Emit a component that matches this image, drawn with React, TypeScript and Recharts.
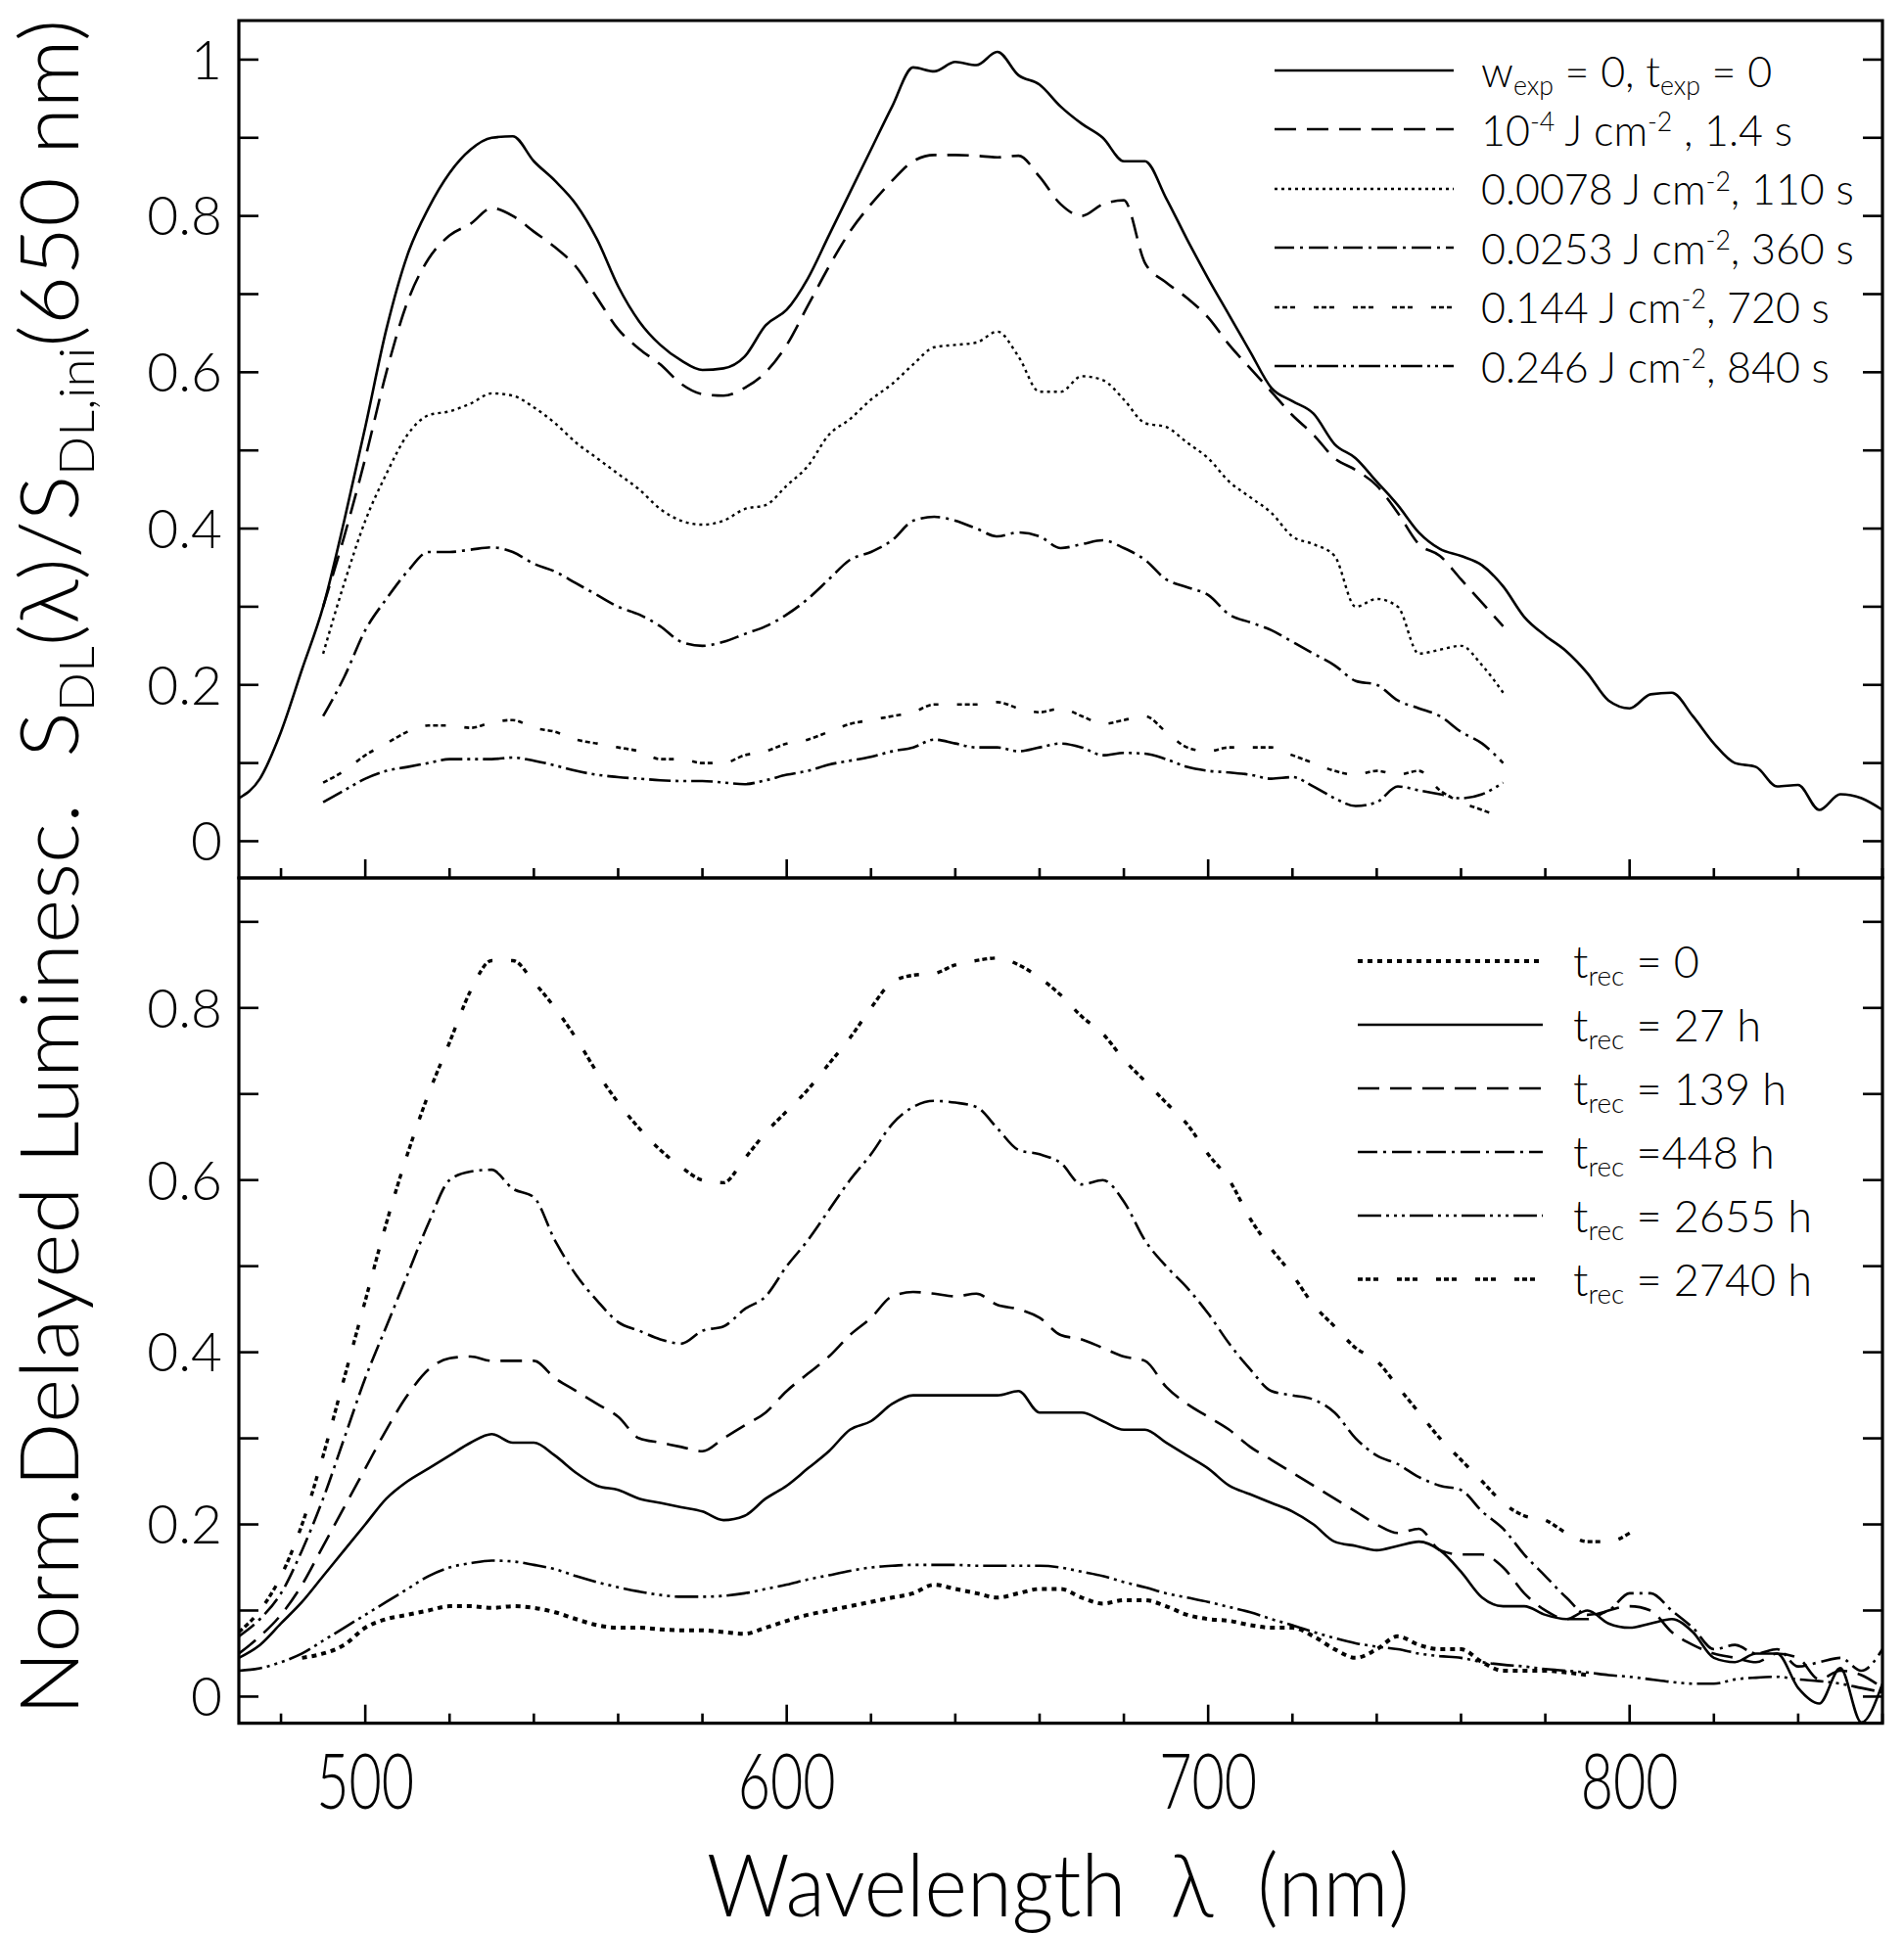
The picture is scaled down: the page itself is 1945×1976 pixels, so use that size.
import React from "react";
import { LineChart, Line, XAxis, YAxis, ReferenceArea } from "recharts";

// wavelength grid (nm), 5 nm steps
const WL_ALL = [
  470, 475, 480, 485, 490, 495, 500, 505, 510, 515,
  520, 525, 530, 535, 540, 545, 550, 555, 560, 565,
  570, 575, 580, 585, 590, 595, 600, 605, 610, 615,
  620, 625, 630, 635, 640, 645, 650, 655, 660, 665,
  670, 675, 680, 685, 690, 695, 700, 705, 710, 715,
  720, 725, 730, 735, 740, 745, 750, 755, 760, 765,
  770, 775, 780, 785, 790, 795, 800, 805, 810, 815,
  820, 825, 830, 835, 840, 845, 850, 855, 860,
];
const WL_EXPOSED = WL_ALL.slice(4, 61); // 490..770
const WL_REC0 = WL_ALL.slice(3, 65); // 485..790
const WL_REC2740 = WL_ALL.slice(0, 67); // 470..800

// upper panel: exposure series
const TOP_UNEXPOSED = [
  0.055, 0.08, 0.14, 0.22, 0.3, 0.41, 0.53, 0.655, 0.75, 0.81,
  0.855, 0.885, 0.9, 0.902, 0.87, 0.845, 0.815, 0.77, 0.71, 0.665,
  0.635, 0.615, 0.603, 0.605, 0.62, 0.66, 0.68, 0.72, 0.775, 0.83,
  0.885, 0.94, 0.99, 0.985, 0.997, 0.993, 1.01, 0.98, 0.968, 0.94,
  0.918, 0.9, 0.87, 0.87, 0.823, 0.77, 0.72, 0.673, 0.626, 0.58,
  0.563, 0.547, 0.508, 0.49, 0.46, 0.43, 0.395, 0.374, 0.365, 0.353,
  0.326, 0.287, 0.263, 0.243, 0.215, 0.18, 0.17, 0.188, 0.19, 0.16,
  0.125, 0.1, 0.095, 0.07, 0.072, 0.04, 0.06, 0.055, 0.04,
];
const TOP_1E4 = [
  0.3, 0.39, 0.49, 0.6, 0.69, 0.745, 0.775, 0.79, 0.81, 0.8,
  0.78, 0.76, 0.735, 0.695, 0.655, 0.63, 0.61, 0.585, 0.572, 0.57,
  0.58, 0.6, 0.635, 0.685, 0.735, 0.78, 0.815, 0.845, 0.87, 0.878,
  0.878, 0.877, 0.875, 0.877, 0.85, 0.815, 0.8, 0.815, 0.82, 0.74,
  0.715, 0.695, 0.67, 0.635, 0.605, 0.575, 0.545, 0.52, 0.49, 0.475,
  0.455, 0.42, 0.38, 0.365, 0.335, 0.305, 0.275,
];
const TOP_0078 = [
  0.24, 0.33, 0.41, 0.47, 0.52, 0.545, 0.55, 0.56, 0.573, 0.57,
  0.555, 0.535, 0.51, 0.49, 0.47, 0.45, 0.425, 0.41, 0.405, 0.41,
  0.425, 0.43, 0.455, 0.48, 0.52, 0.54, 0.565, 0.585, 0.61, 0.632,
  0.635, 0.638, 0.652, 0.62, 0.575, 0.575, 0.595, 0.59, 0.565, 0.535,
  0.53, 0.51, 0.49, 0.46, 0.44, 0.42, 0.39, 0.38, 0.365, 0.3,
  0.31, 0.3, 0.24, 0.245, 0.25, 0.225, 0.19,
];
const TOP_0253 = [
  0.16, 0.21, 0.27, 0.31, 0.345, 0.37, 0.37, 0.373, 0.376, 0.37,
  0.355, 0.345, 0.33, 0.315, 0.3, 0.29, 0.275, 0.255, 0.25, 0.255,
  0.265, 0.275, 0.29, 0.31, 0.335, 0.36, 0.37, 0.385, 0.41, 0.415,
  0.41, 0.4, 0.39, 0.395, 0.39, 0.375, 0.38, 0.385, 0.375, 0.36,
  0.335, 0.325, 0.315, 0.29, 0.28, 0.27, 0.255, 0.24, 0.225, 0.205,
  0.2, 0.18, 0.17, 0.16, 0.14, 0.125, 0.1,
];
const TOP_0144 = [
  0.075, 0.09, 0.11, 0.125, 0.14, 0.148, 0.148, 0.145, 0.152, 0.155,
  0.145, 0.14, 0.13, 0.125, 0.12, 0.115, 0.105, 0.105, 0.1, 0.1,
  0.11, 0.115, 0.125, 0.13, 0.14, 0.15, 0.155, 0.16, 0.165, 0.175,
  0.175, 0.175, 0.178, 0.17, 0.165, 0.17, 0.16, 0.15, 0.155, 0.16,
  0.14, 0.12, 0.115, 0.12, 0.12, 0.12, 0.11, 0.1, 0.09, 0.085,
  0.09, 0.085, 0.09, 0.065, 0.05, 0.04, 0.03,
];
const TOP_0246 = [
  0.05, 0.065, 0.08, 0.09, 0.095, 0.1, 0.105, 0.105, 0.105, 0.107,
  0.103, 0.097, 0.09, 0.085, 0.082, 0.08, 0.078, 0.077, 0.077, 0.075,
  0.073, 0.078, 0.085, 0.09, 0.098, 0.103, 0.108, 0.115, 0.12, 0.13,
  0.125, 0.12, 0.12, 0.115, 0.12, 0.125, 0.12, 0.11, 0.113, 0.112,
  0.105, 0.095, 0.09, 0.088, 0.085, 0.08, 0.082, 0.07, 0.055, 0.045,
  0.05, 0.07, 0.065, 0.06, 0.055, 0.06, 0.075,
];

// lower panel: recovery series
const REC_0 = [
  0.045, 0.05, 0.06, 0.08, 0.09, 0.095, 0.1, 0.105, 0.105, 0.103,
  0.105, 0.103, 0.098, 0.09, 0.083, 0.08, 0.08, 0.078, 0.077, 0.077,
  0.075, 0.073, 0.08, 0.088, 0.095, 0.1, 0.105, 0.11, 0.115, 0.12,
  0.13, 0.125, 0.12, 0.115, 0.12, 0.125, 0.125, 0.115, 0.108, 0.112,
  0.112, 0.105, 0.095, 0.09, 0.088, 0.083, 0.08, 0.08, 0.07, 0.055,
  0.045, 0.055, 0.07, 0.06, 0.055, 0.055, 0.04, 0.03, 0.03, 0.03,
  0.028, 0.025,
];
const REC_27 = [
  0.045, 0.06, 0.085, 0.11, 0.14, 0.17, 0.2, 0.23, 0.25, 0.265,
  0.28, 0.295, 0.305, 0.295, 0.295, 0.28, 0.26, 0.245, 0.24, 0.23,
  0.225, 0.22, 0.215, 0.205, 0.21, 0.23, 0.245, 0.265, 0.285, 0.31,
  0.32, 0.34, 0.35, 0.35, 0.35, 0.35, 0.35, 0.355, 0.33, 0.33,
  0.33, 0.32, 0.31, 0.31, 0.295, 0.28, 0.265, 0.245, 0.235, 0.225,
  0.215, 0.2, 0.18, 0.175, 0.17, 0.175, 0.18, 0.17, 0.145, 0.115,
  0.105, 0.105, 0.095, 0.09, 0.1, 0.085, 0.08, 0.085, 0.09, 0.075,
  0.045, 0.04, 0.05, 0.05, 0.01, -0.008, 0.033, -0.03, 0.015,
];
const REC_139 = [
  0.05, 0.07, 0.095, 0.13, 0.175, 0.22, 0.265, 0.31, 0.35, 0.38,
  0.393, 0.395, 0.39, 0.39, 0.39, 0.37, 0.355, 0.34, 0.325, 0.3,
  0.295, 0.29, 0.285, 0.3, 0.315, 0.33, 0.355, 0.375, 0.395, 0.42,
  0.44, 0.465, 0.47, 0.468, 0.465, 0.468, 0.455, 0.45, 0.44, 0.42,
  0.415, 0.405, 0.395, 0.39, 0.36, 0.34, 0.325, 0.31, 0.29, 0.275,
  0.26, 0.245, 0.23, 0.215, 0.2, 0.19, 0.195, 0.17, 0.165, 0.165,
  0.15, 0.12, 0.1, 0.09, 0.09, 0.1, 0.105, 0.1, 0.075, 0.06,
  0.05, 0.045, 0.04, 0.05, 0.045, 0.02, 0.03, 0.025, 0.01,
];
const REC_448 = [
  0.07, 0.09, 0.12, 0.17, 0.23, 0.3, 0.37, 0.43, 0.49, 0.55,
  0.6, 0.61, 0.612, 0.59, 0.58, 0.53, 0.49, 0.46, 0.435, 0.425,
  0.415, 0.41, 0.425, 0.43, 0.45, 0.465, 0.5, 0.53, 0.565, 0.6,
  0.63, 0.665, 0.685, 0.692, 0.69, 0.685, 0.66, 0.635, 0.63, 0.62,
  0.595, 0.6, 0.575, 0.53, 0.5, 0.475, 0.445, 0.41, 0.38, 0.355,
  0.35, 0.345, 0.33, 0.3, 0.28, 0.27, 0.255, 0.245, 0.24, 0.215,
  0.195, 0.165, 0.14, 0.115, 0.095, 0.1, 0.12, 0.12, 0.1, 0.08,
  0.055, 0.06, 0.05, 0.055, 0.035, 0.04, 0.045, 0.03, 0.055,
];
const REC_2655 = [
  0.03, 0.033, 0.04, 0.05, 0.065, 0.08, 0.095, 0.11, 0.125, 0.14,
  0.15, 0.155, 0.158, 0.157, 0.153, 0.148, 0.14, 0.133, 0.127, 0.122,
  0.118, 0.116, 0.116, 0.117, 0.12, 0.125, 0.13, 0.136, 0.141, 0.146,
  0.15, 0.152, 0.153, 0.153, 0.153, 0.152, 0.152, 0.152, 0.152, 0.15,
  0.145, 0.14, 0.133, 0.127, 0.12, 0.115, 0.11, 0.104, 0.098, 0.09,
  0.083, 0.075, 0.068, 0.062, 0.058, 0.055, 0.05, 0.047, 0.045, 0.04,
  0.037, 0.035, 0.032, 0.03, 0.028, 0.025, 0.023, 0.02, 0.017, 0.015,
  0.015, 0.02, 0.022, 0.023, 0.02, 0.018, 0.015, 0.01, 0.005,
];
const REC_2740 = [
  0.075, 0.1, 0.14, 0.2, 0.28, 0.37, 0.46, 0.55, 0.63, 0.7,
  0.76, 0.82, 0.855, 0.855, 0.83, 0.8, 0.765, 0.725, 0.69, 0.66,
  0.635, 0.615, 0.6, 0.597, 0.625, 0.655, 0.68, 0.705, 0.735, 0.765,
  0.8, 0.83, 0.838, 0.84, 0.85, 0.855, 0.858, 0.85, 0.835, 0.815,
  0.79, 0.77, 0.74, 0.715, 0.69, 0.665, 0.63, 0.6, 0.555, 0.52,
  0.49, 0.455, 0.43, 0.405, 0.39, 0.36, 0.33, 0.3, 0.275, 0.25,
  0.225, 0.21, 0.205, 0.19, 0.18, 0.18, 0.19,
];

const X_TICKS = [480, 500, 520, 540, 560, 580, 600, 620, 640, 660, 680, 700, 720, 740, 760, 780, 800, 820, 840, 860];
const X_LABELS = [500, 600, 700, 800];
const TOP_Y_TICKS = [0, 0.1, 0.2, 0.3, 0.4, 0.5, 0.6, 0.7, 0.8, 0.9, 1];
const BOTTOM_Y_TICKS = [0, 0.1, 0.2, 0.3, 0.4, 0.5, 0.6, 0.7, 0.8, 0.9];
const Y_LABELS = [0, 0.2, 0.4, 0.6, 0.8, 1];

const FONT = "Lato, 'Open Sans', sans-serif";
const W = 1945;
const PLOT_LEFT = 244;
const PLOT_RIGHT = 1923;
const TOP_H = 910;
const TOP_PLOT_TOP = 21;
const TOP_PLOT_BOTTOM = 897;
const BOT_OFFSET = 860;
const BOT_H = 1116;
const BOT_PLOT_TOP = 37;
const BOT_X_AXIS_H = 215.3;
const BOT_PLOT_BOTTOM = BOT_H - BOT_X_AXIS_H;

type Style = { dash?: string; width: number };
const STYLES: Record<string, Style> = {
  solid: { width: 2.6 },
  dashed: { dash: "22 11", width: 2.6 },
  fineDot: { dash: "3 4", width: 2.4 },
  dashDot: { dash: "20 6 3 6", width: 2.6 },
  triple: { dash: "5 3 5 3 5 19", width: 2.6 },
  dashDotDot: { dash: "22 5 3 5 3 5", width: 2.6 },
  thickDot: { dash: "5 5", width: 4 },
  dashDot3: { dash: "24 5 3 5 3 5 3 5", width: 2.6 },
  thickTriple: { dash: "5 3 5 3 5 19", width: 3.4 },
};

const rows = (xs: number[], ys: number[]) => xs.map((x, i) => ({ x, y: ys[i] }));

const TOP_SERIES = [
  { key: "u", xs: WL_ALL, ys: TOP_UNEXPOSED, style: STYLES.solid },
  { key: "a", xs: WL_EXPOSED, ys: TOP_1E4, style: STYLES.dashed },
  { key: "b", xs: WL_EXPOSED, ys: TOP_0078, style: STYLES.fineDot },
  { key: "c", xs: WL_EXPOSED, ys: TOP_0253, style: STYLES.dashDot },
  { key: "d", xs: WL_EXPOSED, ys: TOP_0144, style: STYLES.triple },
  { key: "e", xs: WL_EXPOSED, ys: TOP_0246, style: STYLES.dashDotDot },
];
const BOTTOM_SERIES = [
  { key: "r0", xs: WL_REC0, ys: REC_0, style: STYLES.thickDot },
  { key: "r27", xs: WL_ALL, ys: REC_27, style: STYLES.solid },
  { key: "r139", xs: WL_ALL, ys: REC_139, style: STYLES.dashed },
  { key: "r448", xs: WL_ALL, ys: REC_448, style: STYLES.dashDot },
  { key: "r2655", xs: WL_ALL, ys: REC_2655, style: STYLES.dashDot3 },
  { key: "r2740", xs: WL_REC2740, ys: REC_2740, style: STYLES.thickTriple },
];

const sub = (t: string) => (
  <span style={{ fontSize: "0.62em", position: "relative", top: "0.32em" }}>{t}</span>
);
const sup = (t: string) => (
  <span style={{ fontSize: "0.62em", position: "relative", top: "-0.55em" }}>{t}</span>
);

const TOP_LEGEND = [
  { style: STYLES.solid, label: <>w{sub("exp")} = 0, t{sub("exp")} = 0</> },
  { style: STYLES.dashed, label: <>10{sup("-4")} J cm{sup("-2")} , 1.4 s</> },
  { style: STYLES.fineDot, label: <>0.0078 J cm{sup("-2")}, 110 s</> },
  { style: STYLES.dashDot, label: <>0.0253 J cm{sup("-2")}, 360 s</> },
  { style: STYLES.triple, label: <>0.144 J cm{sup("-2")}, 720 s</> },
  { style: STYLES.dashDotDot, label: <>0.246 J cm{sup("-2")}, 840 s</> },
];
const BOTTOM_LEGEND = [
  { style: STYLES.thickDot, label: <>t{sub("rec")} = 0</> },
  { style: STYLES.solid, label: <>t{sub("rec")} = 27 h</> },
  { style: STYLES.dashed, label: <>t{sub("rec")} = 139 h</> },
  { style: STYLES.dashDot, label: <>t{sub("rec")} =448 h</> },
  { style: STYLES.dashDot3, label: <>t{sub("rec")} = 2655 h</> },
  { style: STYLES.thickTriple, label: <>t{sub("rec")} = 2740 h</> },
];

const yLabel = (v: number) => (v === 0 ? "0" : v === 1 ? "1" : v.toFixed(1));

function LeftYTick(props: any) {
  const { y, payload } = props;
  const v = payload.value as number;
  const showLabel = Y_LABELS.some((l) => Math.abs(l - v) < 1e-6);
  return (
    <g>
      <line x1={PLOT_LEFT} x2={PLOT_LEFT + 20} y1={y} y2={y} stroke="#000" strokeWidth={2.6} />
      {showLabel && (
        <text x={PLOT_LEFT - 17} y={y} dy="0.36em" textAnchor="end" fontSize={55} fontFamily={FONT} fontWeight={300} fill="#000">
          {yLabel(v)}
        </text>
      )}
    </g>
  );
}

function RightYTick(props: any) {
  const { y } = props;
  return <line x1={PLOT_RIGHT - 20} x2={PLOT_RIGHT} y1={y} y2={y} stroke="#000" strokeWidth={2.6} />;
}

function makeXTick(plotBottom: number, withLabels: boolean) {
  return function XTick(props: any) {
    const { x, payload } = props;
    const v = payload.value as number;
    const major = X_LABELS.includes(v);
    return (
      <g>
        <line x1={x} x2={x} y1={plotBottom} y2={plotBottom - (major ? 19 : 10)} stroke="#000" strokeWidth={2.6} />
        {withLabels && major && (
          <text x={x} y={plotBottom + 87} textAnchor="middle" fontSize={78} fontFamily={FONT} fontWeight={300} fill="#000" textLength={100} lengthAdjust="spacingAndGlyphs">
            {v}
          </text>
        )}
      </g>
    );
  };
}

function Panel({ series, ticks, domain, height, margin, xAxisHeight, plotBottom, labels }: any) {
  return (
    <LineChart width={W} height={height} margin={margin}>
      <XAxis
        dataKey="x"
        type="number"
        domain={[470, 860]}
        ticks={X_TICKS}
        interval={0}
        allowDataOverflow
        axisLine={false}
        tickLine={false}
        height={xAxisHeight}
        tick={makeXTick(plotBottom, labels)}
      />
      <YAxis
        yAxisId="l"
        type="number"
        domain={domain}
        ticks={ticks}
        interval={0}
        allowDataOverflow
        axisLine={false}
        tickLine={false}
        width={PLOT_LEFT}
        tick={<LeftYTick />}
      />
      <YAxis
        yAxisId="r"
        orientation="right"
        type="number"
        domain={domain}
        ticks={ticks}
        interval={0}
        allowDataOverflow
        axisLine={false}
        tickLine={false}
        width={W - PLOT_RIGHT}
        tick={<RightYTick />}
      />
      <ReferenceArea
        yAxisId="l"
        x1={470}
        x2={860}
        y1={domain[0]}
        y2={domain[1]}
        fill="none"
        stroke="#000"
        strokeWidth={3.2}
        ifOverflow="visible"
      />
      {series.map((s: any) => (
        <Line
          key={s.key}
          yAxisId="l"
          data={rows(s.xs, s.ys)}
          dataKey="y"
          type="monotone"
          stroke="#000"
          strokeWidth={s.style.width}
          strokeDasharray={s.style.dash}
          dot={false}
          activeDot={false}
          isAnimationActive={false}
        />
      ))}
    </LineChart>
  );
}

function LegendBlock({ items, left, top, step, lineW, gap, fontSize }: any) {
  return (
    <div style={{ position: "absolute", left, top: 0, fontFamily: FONT, fontWeight: 300, fontSize, color: "#000" }}>
      {items.map((it: any, i: number) => (
        <div
          key={i}
          style={{ position: "absolute", top: top + i * step - 30, height: 60, display: "flex", alignItems: "center", whiteSpace: "nowrap" }}
        >
          <svg width={lineW} height={10} style={{ display: "block" }}>
            <line x1={0} x2={lineW} y1={5} y2={5} stroke="#000" strokeWidth={it.style.width} strokeDasharray={it.style.dash} />
          </svg>
          <span style={{ marginLeft: gap, lineHeight: 1 }}>{it.label}</span>
        </div>
      ))}
    </div>
  );
}

export default function App() {
  return (
    <div style={{ position: "relative", width: W, height: 1976, background: "#fff", overflow: "hidden" }}>
      <style>{"body{margin:0}"}</style>
      <div style={{ position: "absolute", left: 0, top: 0 }}>
        <Panel
          series={TOP_SERIES}
          ticks={TOP_Y_TICKS}
          domain={[-0.047, 1.05]}
          height={TOP_H}
          margin={{ top: TOP_PLOT_TOP, right: 0, bottom: 0, left: 0 }}
          xAxisHeight={TOP_H - TOP_PLOT_BOTTOM}
          plotBottom={TOP_PLOT_BOTTOM}
          labels={false}
        />
      </div>
      <div style={{ position: "absolute", left: 0, top: BOT_OFFSET }}>
        <Panel
          series={BOTTOM_SERIES}
          ticks={BOTTOM_Y_TICKS}
          domain={[-0.031, 0.951]}
          height={BOT_H}
          margin={{ top: BOT_PLOT_TOP, right: 0, bottom: 0, left: 0 }}
          xAxisHeight={BOT_X_AXIS_H}
          plotBottom={BOT_PLOT_BOTTOM}
          labels={true}
        />
      </div>
      <LegendBlock items={TOP_LEGEND} left={1302} top={72} step={60.4} lineW={183} gap={28} fontSize={43} />
      <LegendBlock items={BOTTOM_LEGEND} left={1387} top={982} step={65} lineW={189} gap={31} fontSize={45} />
      <svg width={W} height={1976} style={{ position: "absolute", left: 0, top: 0, pointerEvents: "none" }}>
        <text
          transform="translate(80, 886) rotate(-90)"
          textAnchor="middle"
          fontSize={82}
          fontFamily={FONT}
          fontWeight={300}
          textLength={1733}
          lengthAdjust="spacingAndGlyphs"
          style={{ whiteSpace: "pre" }}
        >
          Norm.Delayed Luminesc.  S<tspan fontSize={50} dy={16}>DL</tspan>
          <tspan dy={-16}>(λ)/S</tspan>
          <tspan fontSize={50} dy={16}>DL,ini</tspan>
          <tspan dy={-16}>(650 nm)</tspan>
        </text>
        <text
          x={1081}
          y={1958}
          textAnchor="middle"
          fontSize={88}
          fontFamily={FONT}
          fontWeight={300}
          textLength={718}
          lengthAdjust="spacingAndGlyphs"
          style={{ whiteSpace: "pre" }}
        >
          Wavelength  λ  (nm)
        </text>
      </svg>
    </div>
  );
}
